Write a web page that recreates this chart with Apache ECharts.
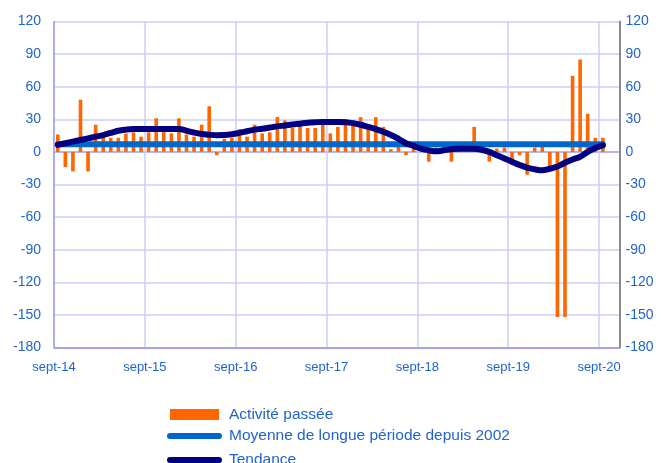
<!DOCTYPE html>
<html>
<head>
<meta charset="utf-8">
<script src="https://cdn.jsdelivr.net/npm/echarts@6/dist/echarts.min.js"></script>
<style>
  html, body { margin: 0; padding: 0; background: #ffffff; }
  #chart { width: 661px; height: 463px; }
</style>
</head>
<body>
<div id="chart"></div>
<script>
// Mois couverts, de septembre 2014 à septembre 2020
const months = [
  'sept-14','oct-14','nov-14','déc-14','janv-15','févr-15','mars-15','avr-15','mai-15','juin-15','juil-15','août-15',
  'sept-15','oct-15','nov-15','déc-15','janv-16','févr-16','mars-16','avr-16','mai-16','juin-16','juil-16','août-16',
  'sept-16','oct-16','nov-16','déc-16','janv-17','févr-17','mars-17','avr-17','mai-17','juin-17','juil-17','août-17',
  'sept-17','oct-17','nov-17','déc-17','janv-18','févr-18','mars-18','avr-18','mai-18','juin-18','juil-18','août-18',
  'sept-18','oct-18','nov-18','déc-18','janv-19','févr-19','mars-19','avr-19','mai-19','juin-19','juil-19','août-19',
  'sept-19','oct-19','nov-19','déc-19','janv-20','févr-20','mars-20','avr-20','mai-20','juin-20','juil-20','août-20',
  'sept-20'
];

// Libellés de l'axe horizontal (un par an)
const yearTicks = ['sept-14','sept-15','sept-16','sept-17','sept-18','sept-19','sept-20'];

// Activité passée (solde d'opinion)
const activite = [
  16, -14, -18, 48, -18, 25, 14, 13, 13, 17, 18, 14,
  18, 31, 21, 17, 31, 16, 14, 25, 42, -3, 12, 13,
  21, 14, 25, 17, 18, 32, 29, 22, 28, 22, 22, 30,
  17, 23, 30, 25, 32, 22, 32, 23, 2.5, 15, -3, 5,
  5, -9, 4, 5, -9, 5, 5, 23, 5, -9, 3, 4,
  -12, -3, -21, 4, 5, -14, -152, -152, 70, 85, 35, 13,
  13
];

// Tendance
const tendance = [
  6.5, 8, 9.5, 11, 12.5, 14, 15.5, 17.5, 19.5, 20.5, 21, 21,
  21, 21, 21, 21, 21, 19.5, 17.8, 16.5, 15.8, 15.4, 15.5, 16.2,
  17.5, 19, 20.5, 21.3, 22.4, 23.5, 24.3, 25.2, 26, 26.8, 27.3, 27.6,
  27.6, 27.5, 27.3, 26.5, 25, 23, 21, 18.5, 15.5, 12, 8, 5.5,
  3, 1.5, 0.5, 1.5, 2.5, 3, 3, 3, 2, 0, -3, -6,
  -9, -12, -14.5, -16, -17, -15.5, -13.5, -10, -7, -4.5, 0, 3.5,
  6
];

// Moyenne de longue période depuis 2002
const moyenneLongue = 7;

const yTicks = { min: -180, max: 120, interval: 30 };

const labelBlue = '#1f63cf';
const fontFamily = '"Liberation Sans", Arial, sans-serif';

// Position au milieu de chaque mois sur l'axe temporel
const at = (i) => i + 0.5;

const gridLight = '#ccccf6';
const gridStrong = '#9c9cf0';
// Lignes horizontales de -180 à 120 ; la ligne du zéro est plus marquée
const hSplitColors = [gridStrong, gridLight, gridLight, gridLight, gridLight, gridLight,
                      gridStrong, gridLight, gridLight, gridLight, gridLight];

const capsule = 'path://M3 0H52A3 3 0 0 1 52 6H3A3 3 0 0 1 3 0Z';
const legendText = { color: labelBlue, fontSize: 15.5, fontFamily: fontFamily };

const chart = echarts.init(document.getElementById('chart'), null, { renderer: 'canvas' });

chart.setOption({
  animation: false,
  backgroundColor: '#ffffff',
  grid: { left: 54, top: 21.5, width: 565.5, height: 326 },
  xAxis: {
    type: 'value',
    min: 0,
    max: 74.7,
    interval: 12,
    axisLine: { onZero: false, lineStyle: { color: gridStrong, width: 1.5 } },
    axisTick: { show: false },
    splitLine: { show: true, lineStyle: { color: gridLight, width: 1.5 } },
    axisLabel: {
      color: labelBlue,
      fontSize: 13,
      fontFamily: fontFamily,
      margin: 13,
      formatter: (v) => (Math.abs(v % 12) < 1e-6 ? yearTicks[Math.round(v / 12)] : '')
    }
  },
  yAxis: [
    {
      type: 'value',
      position: 'left',
      min: yTicks.min, max: yTicks.max, interval: yTicks.interval,
      axisLine: { show: true, lineStyle: { color: gridStrong, width: 1.5 } },
      axisTick: { show: false },
      splitLine: { show: true, lineStyle: { color: hSplitColors, width: 1.5 } },
      axisLabel: { color: labelBlue, fontSize: 14, fontFamily: fontFamily, margin: 13 }
    },
    {
      type: 'value',
      position: 'right',
      min: yTicks.min, max: yTicks.max, interval: yTicks.interval,
      axisLine: { show: true, lineStyle: { color: '#8a8a8a', width: 2 } },
      axisTick: { show: false },
      splitLine: { show: false },
      axisLabel: { color: labelBlue, fontSize: 14, fontFamily: fontFamily, margin: 6 }
    }
  ],
  legend: [
    {
      data: ['Activité passée'],
      left: 170, top: 406.5, padding: 0,
      itemWidth: 49, itemHeight: 11, icon: 'rect',
      textStyle: Object.assign({ padding: [0, 0, 0, 5] }, legendText)
    },
    {
      data: ['Moyenne de longue période depuis 2002'],
      left: 167, top: 428, padding: 0,
      itemWidth: 55, itemHeight: 6, icon: capsule,
      textStyle: Object.assign({ padding: [0, 0, 0, 2] }, legendText)
    },
    {
      data: ['Tendance'],
      left: 167, top: 452, padding: 0,
      itemWidth: 55, itemHeight: 6, icon: capsule,
      textStyle: Object.assign({ padding: [0, 0, 0, 2] }, legendText)
    }
  ],
  series: [
    {
      name: 'Activité passée',
      type: 'bar',
      barWidth: 3.6,
      itemStyle: { color: '#ff6600' },
      data: activite.map((v, i) => [at(i), v]),
      z: 2
    },
    {
      name: 'Moyenne de longue période depuis 2002',
      type: 'line',
      showSymbol: false,
      symbol: 'none',
      itemStyle: { color: '#0066cc' },
      lineStyle: { color: '#0066cc', width: 6, cap: 'round' },
      data: months.map((m, i) => [at(i), moyenneLongue]),
      z: 3
    },
    {
      name: 'Tendance',
      type: 'line',
      showSymbol: false,
      symbol: 'none',
      smooth: 0.4,
      itemStyle: { color: '#000080' },
      lineStyle: { color: '#000080', width: 6, cap: 'round', join: 'round' },
      data: tendance.map((v, i) => [at(i), v]),
      z: 4
    }
  ]
});
</script>
</body>
</html>
